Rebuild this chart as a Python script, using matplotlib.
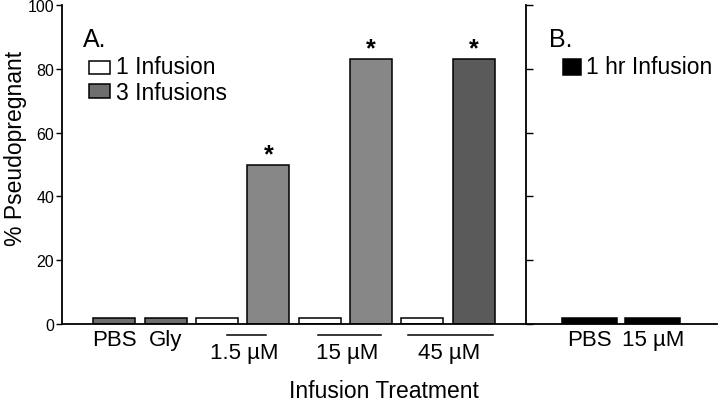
import matplotlib
matplotlib.use("Agg")
import matplotlib.pyplot as plt
from matplotlib.patches import Rectangle
import matplotlib.transforms as mtransforms

plt.rcParams['font.family'] = ['Liberation Sans', 'DejaVu Sans']

# ---- data ----
categories = ["PBS", "Gly", "1.5 µM", "15 µM", "45 µM"]
one_infusion = [None, None, 2, 2, 2]
three_infusions = [2, 2, 50, 83, 83]
significant = [False, False, True, True, True]
b_categories = ["PBS", "15 µM"]
b_values = [2, 2]
yticks = [0, 20, 40, 60, 80, 100]

gray_colors = ["#6e6e6e", "#6e6e6e", "#878787", "#878787", "#5a5a5a"]

W, H = 720, 402
fig = plt.figure(figsize=(7.2, 4.02), dpi=100)

def fx(px):
    return px / W

def fy(py):
    return 1 - py / H

axA = fig.add_axes([fx(62), fy(325), fx(526) - fx(62), fy(6) - fy(325)])
axB = fig.add_axes([fx(526), fy(325), fx(717) - fx(526), fy(6) - fy(325)])

lw = 1.1
# ---- panel A bars ----
pos = 0
group_centers = []
for i, cat in enumerate(categories):
    xs = []
    if one_infusion[i] is not None:
        axA.bar(pos, one_infusion[i], width=0.82, color="white", edgecolor="black", linewidth=lw)
        xs.append(pos)
        pos += 1
    axA.bar(pos, three_infusions[i], width=0.82, color=gray_colors[i], edgecolor="black", linewidth=lw)
    if significant[i]:
        axA.annotate("*", (pos, three_infusions[i]), xytext=(0, -1), textcoords="offset points",
                     ha="center", va="bottom", fontsize=18, fontweight="bold")
    xs.append(pos)
    group_centers.append(xs)
    pos += 1

axA.set_xlim(-1.02, 8.02)
axA.set_ylim(0, 100)
axA.set_yticks(yticks)
axA.tick_params(axis="y", direction="out", length=4.5, width=1, labelsize=11.5, pad=1)
axA.set_xticks([])
for s in ["top", "right"]:
    axA.spines[s].set_visible(False)
for s in ["left", "bottom"]:
    axA.spines[s].set_linewidth(1.3)

trans = mtransforms.blended_transform_factory(axA.transData, axA.transAxes)
# x labels for single-bar groups, underline + label for pairs
underline_ext = {2: (2.19, 2.95), 3: (3.97, 5.19), 4: (5.72, 7.38)}
for i, xs in enumerate(group_centers):
    if len(xs) == 1:
        axA.text(xs[0], -0.05, categories[i], transform=trans, ha="center", va="center", fontsize=16)
    else:
        x0, x1 = underline_ext[i]
        axA.plot([x0, x1], [-0.036, -0.036], transform=trans, color="black", lw=1.1, clip_on=False)
        axA.text((xs[0] + xs[1]) / 2 + 0.03, -0.088, categories[i], transform=trans,
                 ha="center", va="center", fontsize=16)

# ---- panel B ----
for j, v in enumerate(b_values):
    axB.bar(j, v, width=0.87, color="black", edgecolor="black", linewidth=lw)
axB.set_xlim(-1.01, 2.02)
axB.set_ylim(0, 100)
axB.set_yticks(yticks)
axB.tick_params(axis="y", direction="in", length=5, width=1, labelleft=False)
axB.set_xticks([])
for s in ["top", "right"]:
    axB.spines[s].set_visible(False)
for s in ["left", "bottom"]:
    axB.spines[s].set_linewidth(1.3)
transB = mtransforms.blended_transform_factory(axB.transData, axB.transAxes)
for j, lab in enumerate(b_categories):
    axB.text(j, -0.05, lab, transform=transB, ha="center", va="center", fontsize=16)

# ---- axis titles ----
fig.text(fx(16), fy(148), "% Pseudopregnant", rotation=90, ha="center", va="center", fontsize=16.5)
fig.text(fx(384), fy(392), "Infusion Treatment", ha="center", va="center", fontsize=16.5)

# ---- legends ----
fig.text(fx(83), fy(40), "A.", ha="left", va="center", fontsize=18)
fig.patches.append(Rectangle((fx(89), fy(75)), fx(110) - fx(89), fy(62) - fy(75),
                             transform=fig.transFigure, facecolor="white", edgecolor="black", lw=1.1))
fig.text(fx(116), fy(68), "1 Infusion", ha="left", va="center", fontsize=16.5)
fig.patches.append(Rectangle((fx(89), fy(99)), fx(110) - fx(89), fy(85) - fy(99),
                             transform=fig.transFigure, facecolor="#6e6e6e", edgecolor="black", lw=1.1))
fig.text(fx(116), fy(93), "3 Infusions", ha="left", va="center", fontsize=16.5)

fig.text(fx(549), fy(40), "B.", ha="left", va="center", fontsize=18)
fig.patches.append(Rectangle((fx(563), fy(76)), fx(581) - fx(563), fy(60) - fy(76),
                             transform=fig.transFigure, facecolor="black", edgecolor="black", lw=1.1))
fig.text(fx(586), fy(68), "1 hr Infusion", ha="left", va="center", fontsize=16.5)

fig.savefig("out.png", dpi=100)
